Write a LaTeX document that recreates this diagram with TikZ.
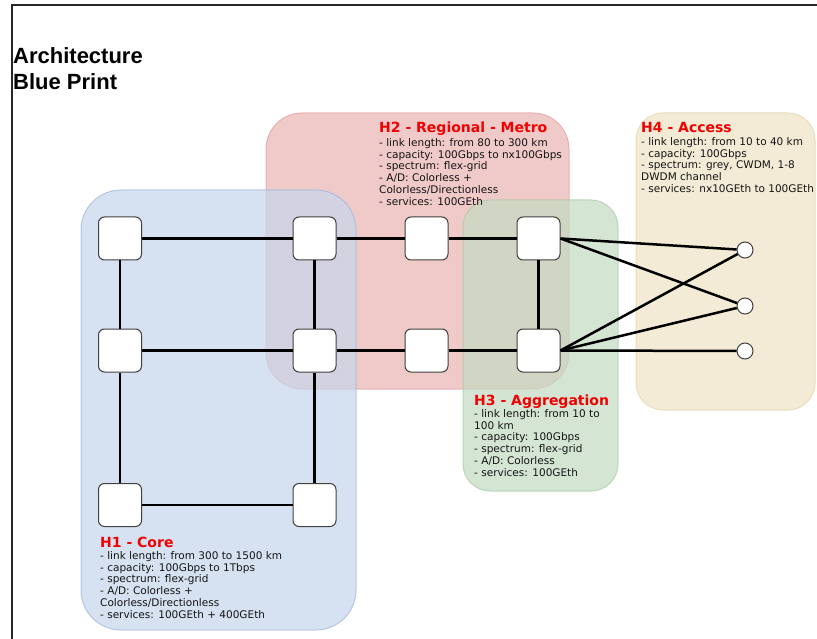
\documentclass[tikz,border=0pt]{standalone}
\usepackage{fontspec}
\setmainfont{DejaVu Sans}
\newfontfamily\titlefont{Liberation Sans}
\definecolor{redF}{HTML}{EBB4B2}
\definecolor{redD}{HTML}{E0A0A0}
\definecolor{blueF}{HTML}{C6D6EC}
\definecolor{blueD}{HTML}{9FB6DC}
\definecolor{greenF}{HTML}{C4DBC2}
\definecolor{greenD}{HTML}{A8CCA4}
\definecolor{beigeF}{HTML}{F3EBD5}
\definecolor{beigeD}{HTML}{EADDBB}
\definecolor{hred}{HTML}{F00000}
\begin{document}
\begin{tikzpicture}[x=1pt,y=-1pt,
  region/.style={line width=1pt, fill opacity=0.7, draw opacity=0.7},
  sw/.style={draw=black!75, fill=white, rounded corners=6pt, minimum width=43pt, minimum height=43pt, inner sep=0pt, line width=1pt},
  ep/.style={circle, draw=black!75, fill=white, minimum size=16pt, inner sep=0pt, line width=1pt},
  link/.style={line width=2.5pt, black},
  htitle/.style={anchor=base west, inner sep=0pt, text=hred, font=\fontsize{14}{16}\selectfont\bfseries},
  hbody/.style={anchor=north west, inner sep=0pt, align=left, text=black!92, font=\fontsize{10.5}{11.9}\selectfont},
  bigtitle/.style={anchor=base west, inner sep=0pt, font=\titlefont\fontsize{22}{26}\selectfont\bfseries}
]
\useasboundingbox (0,0) rectangle (817,639);
\fill[white] (0,0) rectangle (817,639);
% frame
\draw[line width=1.5pt, black!85] (12,639) -- (12,5) -- (817,5);

% regions
\filldraw[region, fill=redF, draw=redD, rounded corners=36pt] (266,113) rectangle (569,389);
\filldraw[region, fill=blueF, draw=blueD, rounded corners=40pt] (81,190) rectangle (356,630);
\filldraw[region, fill=greenF, draw=greenD, rounded corners=27pt] (463,200) rectangle (618,491);
\filldraw[line width=1pt, fill=beigeF, draw=beigeD, rounded corners=27pt] (636,113) rectangle (815,410);

% title
\node[bigtitle] (t1) at (13,64) {Architecture};
\node[bigtitle] (t2) at (13,90) {Blue Print};

% region texts
\node[htitle] (h2t) at (379,133) {H2 - Regional - Metro};
\node[hbody] (h2b) at (379,138) {- link length: from 80 to 300 km\\- capacity: 100Gbps to nx100Gbps\\- spectrum: flex-grid\\- A/D: Colorless +\\Colorless/Directionless\\- services: 100GEth};

\node[htitle] (h4t) at (641,133) {H4 - Access};
\node[hbody] (h4b) at (641,137) {- link length: from 10 to 40 km\\- capacity: 100Gbps\\- spectrum: grey, CWDM, 1-8\\DWDM channel\\- services: nx10GEth to 100GEth};

\node[htitle] (h3t) at (474,405) {H3 - Aggregation};
\node[hbody] (h3b) at (474,409) {- link length: from 10 to\\100 km\\- capacity: 100Gbps\\- spectrum: flex-grid\\- A/D: Colorless\\- services: 100GEth};

\node[htitle] (h1t) at (100,547) {H1 - Core};
\node[hbody] (h1b) at (100,551) {- link length: from 300 to 1500 km\\- capacity: 100Gbps to 1Tbps\\- spectrum: flex-grid\\- A/D: Colorless +\\Colorless/Directionless\\- services: 100GEth + 400GEth};

% nodes
\node[sw] (A) at (120,238.5) {};
\node[sw] (B) at (314.5,238.5) {};
\node[sw] (C) at (426.5,238.5) {};
\node[sw] (D) at (538.5,238.5) {};
\node[sw] (E) at (120,350.5) {};
\node[sw] (F) at (314.5,350.5) {};
\node[sw] (G) at (426.5,350.5) {};
\node[sw] (H) at (538.5,350.5) {};
\node[sw] (I) at (120,505) {};
\node[sw] (J) at (314.5,505) {};
\node[ep] (c1) at (745,250) {};
\node[ep] (c2) at (745,306) {};
\node[ep] (c3) at (745,351) {};

% links
\draw[link] (A) -- (B);
\draw[link] (B) -- (C);
\draw[link] (C) -- (D);
\draw[link] (E) -- (F);
\draw[link] (F) -- (G);
\draw[link] (G) -- (H);
\draw[link] (A) -- (E);
\draw[link] (E) -- (I);
\draw[link] (I) -- (J);
\draw[link] (J) -- (F);
\draw[link] (F) -- (B);
\draw[link] (D) -- (H);
\draw[link] (D.east) -- (c1);
\draw[link] (D.east) -- (c2);
\draw[link] (H.east) -- (c1);
\draw[link] (H.east) -- (c2);
\draw[link] (H.east) -- (c3);
\end{tikzpicture}
\end{document}
